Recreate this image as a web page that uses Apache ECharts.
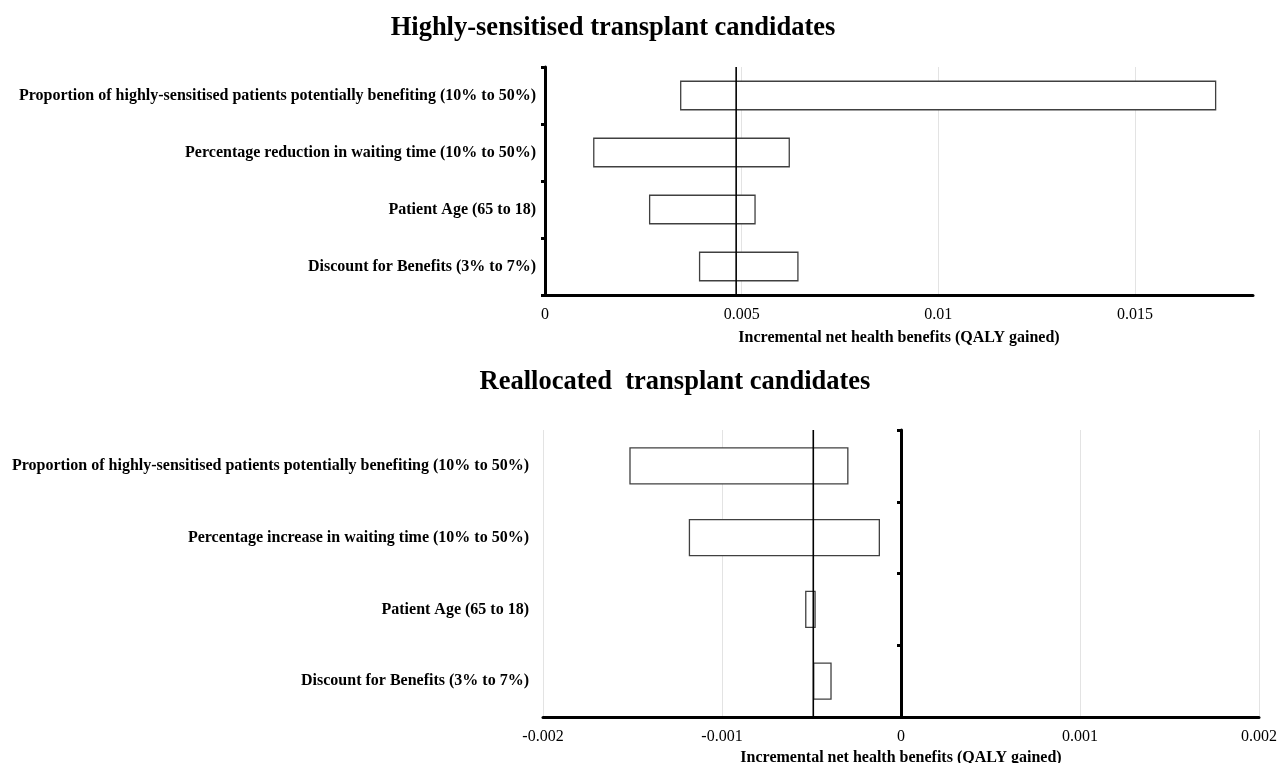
<!DOCTYPE html>
<html>
<head>
<meta charset="utf-8">
<script src="https://cdn.jsdelivr.net/npm/echarts@6/dist/echarts.min.js"></script>
<style>html,body{margin:0;padding:0;background:#fff}#c{width:1288px;height:763px}</style>
</head>
<body>
<div id="c"></div>
<script>
// ---- data ----
const title1 = 'Highly-sensitised transplant candidates';
const title2 = 'Reallocated  transplant candidates';
const axisName = 'Incremental net health benefits (QALY gained)';

const cats1 = [
  'Proportion of highly-sensitised patients potentially benefiting (10% to 50%)',
  'Percentage reduction in waiting time (10% to 50%)',
  'Patient Age (65 to 18)',
  'Discount for Benefits (3% to 7%)'
];
const low1  = [0.00345, 0.00124, 0.00266, 0.00393];
const high1 = [0.01705, 0.00621, 0.00534, 0.00643];
const base1 = 0.00486;

const cats2 = [
  'Proportion of highly-sensitised patients potentially benefiting (10% to 50%)',
  'Percentage increase in waiting time (10% to 50%)',
  'Patient Age (65 to 18)',
  'Discount for Benefits (3% to 7%)'
];
const low2  = [-0.001514, -0.001182, -0.000532, -0.000488];
const high2 = [-0.000297, -0.000121, -0.000480, -0.000391];
const base2 = -0.000490;

// ---- chart ----
const serif = '"Liberation Serif", "Times New Roman", serif';
const chart = echarts.init(document.getElementById('c'));

function rangeData(cats, lo, hi) {
  return cats.map((c, i) => [i, lo[i], hi[i]]);
}
function renderRange(params, api) {
  const ci = api.value(0);
  const p1 = api.coord([api.value(1), ci]);
  const p2 = api.coord([api.value(2), ci]);
  const h = api.size([0, 1])[1] * 0.5;
  return {
    type: 'rect',
    shape: { x: p1[0], y: p1[1] - h / 2, width: p2[0] - p1[0], height: h },
    style: { fill: '#ffffff', stroke: '#404040', lineWidth: 1.3 }
  };
}
function renderBase(params, api) {
  const cs = params.coordSys;
  const x = api.coord([api.value(0), 0])[0];
  return {
    type: 'line',
    shape: { x1: x, y1: cs.y, x2: x, y2: cs.y + cs.height },
    style: { stroke: '#000', lineWidth: 1.6 }
  };
}

const labelStyle = { fontFamily: serif, fontSize: 16, color: '#000' };
const nameStyle = { fontFamily: serif, fontWeight: 'bold', fontSize: 16, color: '#000' };
const titleStyle = { fontFamily: serif, fontWeight: 'bold', fontSize: 26.5, color: '#000' };

chart.setOption({
  animation: false,
  title: [
    { text: title1, left: 608, top: 10, textAlign: 'center', textStyle: titleStyle },
    { text: title2, left: 670, top: 364, textAlign: 'center', textStyle: titleStyle }
  ],
  grid: [
    { left: 545, top: 67, right: 35, height: 228, outerBoundsMode: 'none', containLabel: false },
    { left: 543, top: 430, right: 29, height: 287, outerBoundsMode: 'none', containLabel: false }
  ],
  xAxis: [
    { type: 'value', gridIndex: 0, min: 0, max: 0.018, interval: 0.005,
      axisLine: { show: true, onZero: false, lineStyle: { color: '#000', width: 3 } },
      axisTick: { show: false },
      axisLabel: { ...labelStyle, margin: 12, showMaxLabel: false },
      splitLine: { show: true, showMinLine: false, showMaxLine: false, lineStyle: { color: '#e3e3e3', width: 1 } },
      name: axisName, nameLocation: 'middle', nameGap: 35, nameTextStyle: nameStyle },
    { type: 'value', gridIndex: 1, min: -0.002, max: 0.002, interval: 0.001,
      axisLine: { show: true, onZero: false, lineStyle: { color: '#000', width: 3 } },
      axisTick: { show: false },
      axisLabel: { ...labelStyle, margin: 12 },
      splitLine: { show: true, lineStyle: { color: '#e3e3e3', width: 1 } },
      name: axisName, nameLocation: 'middle', nameGap: 33, nameTextStyle: nameStyle }
  ],
  yAxis: [
    { type: 'category', gridIndex: 0, data: cats1, inverse: true,
      axisLine: { show: true, onZero: false, lineStyle: { color: '#000', width: 3 } },
      axisTick: { show: true, length: 4, lineStyle: { color: '#000', width: 3 } },
      axisLabel: { ...labelStyle, fontWeight: 'bold', margin: 9 },
      splitLine: { show: false } },
    { type: 'category', gridIndex: 1, data: cats2, inverse: true,
      axisLine: { show: false, onZero: false },
      axisTick: { show: false },
      axisLabel: { ...labelStyle, fontWeight: 'bold', margin: 14 },
      splitLine: { show: false } },
    { type: 'category', gridIndex: 1, data: cats2, inverse: true,
      axisLine: { show: true, onZero: true, lineStyle: { color: '#000', width: 3 } },
      axisTick: { show: true, inside: true, length: 4, lineStyle: { color: '#000', width: 3 } },
      axisLabel: { show: false },
      splitLine: { show: false } }
  ],
  series: [
    { type: 'custom', xAxisIndex: 0, yAxisIndex: 0, renderItem: renderRange,
      encode: { x: [1, 2], y: 0 }, data: rangeData(cats1, low1, high1), z: 3 },
    { type: 'custom', xAxisIndex: 0, yAxisIndex: 0, renderItem: renderBase,
      encode: { x: 0 }, data: [[base1]], z: 4 },
    { type: 'custom', xAxisIndex: 1, yAxisIndex: 1, renderItem: renderRange,
      encode: { x: [1, 2], y: 0 }, data: rangeData(cats2, low2, high2), z: 3 },
    { type: 'custom', xAxisIndex: 1, yAxisIndex: 1, renderItem: renderBase,
      encode: { x: 0 }, data: [[base2]], z: 4 }
  ]
});
</script>
</body>
</html>
